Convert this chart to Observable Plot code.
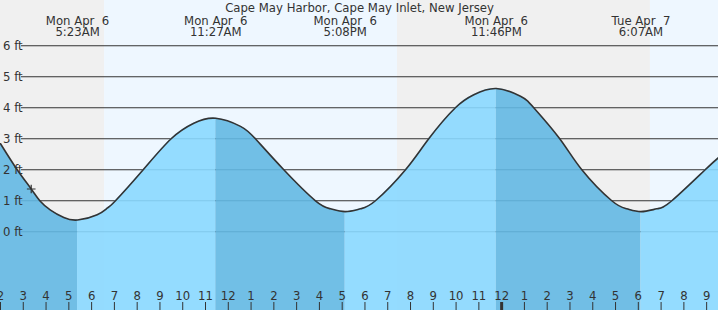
<!DOCTYPE html>
<html><head><meta charset="utf-8">
<script src="https://cdn.jsdelivr.net/npm/d3@7"></script>
<script src="https://cdn.jsdelivr.net/npm/@observablehq/plot@0.6"></script>
<style>
body{margin:0;background:#fff}
svg text{white-space:pre}
</style>
</head><body><div id="chart"></div>
<script>
const title = "Cape May Harbor, Cape May Inlet, New Jersey";

// tide curve (hours since midnight Apr 6, feet)
const tideHours = [2.000, 2.733, 3.348, 3.725, 4.195, 4.779, 5.383, 6.245, 6.684, 7.048, 8.264, 9.493, 10.486, 11.450, 12.536, 13.19, 14.437, 15.828, 16.487, 17.133, 17.803, 18.46, 19.78, 20.80, 21.97, 22.778, 23.767, 24.827, 25.41, 26.55, 27.52, 28.835, 29.494, 30.117, 30.811, 31.47, 32.935, 33.52];
const tideFeet  = [2.84, 2.00, 1.38, 1.00, 0.70, 0.46, 0.38, 0.55, 0.76, 1.00, 2.00, 3.00, 3.50, 3.66, 3.40, 3.00, 2.00, 1.00, 0.74, 0.65, 0.74, 1.00, 2.00, 3.00, 4.00, 4.42, 4.62, 4.37, 4.00, 3.00, 2.00, 1.00, 0.74, 0.65, 0.74, 1.00, 2.00, 2.39];

// high / low tides
const extremeHours = [5.383, 11.450, 17.133, 23.767, 30.117];
const extremeDays  = ["Mon Apr  6", "Mon Apr  6", "Mon Apr  6", "Mon Apr  6", "Tue Apr  7"];
const extremeTimes = ["5:23AM", "11:27AM", "5:08PM", "11:46PM", "6:07AM"];

// day / night
const bandStart = [2, 6.57, 19.43, 30.53];
const bandEnd   = [6.57, 19.43, 30.53, 33.52];
const bandKind  = ["night", "day", "night", "day"];

const gridFeet   = [0, 1, 2, 3, 4, 5, 6];
const gridLabels = ["0 ft", "1 ft", "2 ft", "3 ft", "4 ft", "5 ft", "6 ft"];

const hourTicks  = [2,3,4,5,6,7,8,9,10,11,12,13,14,15,16,17,18,19,20,21,22,23,24,25,26,27,28,29,30,31,32,33];
const hourLabels = ["2","3","4","5","6","7","8","9","10","11","12","1","2","3","4","5","6","7","8","9","10","11","12","1","2","3","4","5","6","7","8","9"];
const midnightTick = [24];

const nowHour = [3.348];
const nowFeet = [1.38];

const xDomain = [2, 33.52];
const yDomain = [-2.54, 7.46];

const LIGHT = "#89d8ff", DARK = "#63b8e3", INK = "#333";
const FONT = 11.7;

const bands = bandStart.map((s, i) => ({s, e: bandEnd[i], fill: bandKind[i] === "night" ? "#f0f0f0" : "#eef7ff"}));
const points = tideHours.map((t, i) => ({t, h: tideFeet[i]}));
const phaseEdges = [xDomain[0], ...extremeHours, xDomain[1]];
const phases = [];
for (let k = 0; k < phaseEdges.length - 1; k++) {
  const a = tideHours.indexOf(phaseEdges[k]), b = tideHours.indexOf(phaseEdges[k + 1]);
  const fallingPhase = tideFeet[b] < tideFeet[a];
  phases.push({s: phaseEdges[k], e: phaseEdges[k + 1], fill: fallingPhase ? DARK : LIGHT});
}
const extremes = extremeHours.map((t, i) => ({t, label: extremeDays[i] + "\n" + extremeTimes[i]}));
const grid = gridFeet.map((v, i) => ({v, label: gridLabels[i]}));
const hours = hourTicks.map((h, i) => ({h, label: hourLabels[i]}));

const chart = Plot.plot({
  width: 718, height: 310,
  marginTop: 0, marginRight: 0, marginBottom: 0, marginLeft: 0,
  style: {fontFamily: "DejaVu Sans", background: "#fff"},
  x: {domain: xDomain, axis: null},
  y: {domain: yDomain, axis: null},
  marks: [
    Plot.rect(bands, {x1: "s", x2: "e", fill: "fill"}),
    Plot.ruleY(grid, {y: "v", stroke: INK, strokeWidth: 1, insetLeft: 21}),
    Plot.areaY(points, {x: "t", y1: yDomain[0], y2: "h", fill: "#000", fillOpacity: 0, curve: "natural"}),
    Plot.rect(phases, {x1: "s", x2: "e", fill: "fill", fillOpacity: 0.9}),
    Plot.line(points, {x: "t", y: "h", stroke: INK, strokeWidth: 1.6, curve: "natural"}),
    Plot.dot(nowHour.map((t, i) => ({t, h: nowFeet[i]})), {x: "t", y: "h", symbol: "plus", r: 2.9, stroke: INK, strokeWidth: 1.2}),
    Plot.text(grid, {y: "v", text: "label", frameAnchor: "left", textAnchor: "start", dx: 2.5, fill: INK, fontSize: FONT}),
    Plot.tickX(hours, {x: "h", insetTop: 302, stroke: INK, strokeWidth: 1}),
    Plot.tickX(midnightTick, {x: d => d, insetTop: 302, stroke: INK, strokeWidth: 3}),
    Plot.text(hours, {x: "h", text: "label", frameAnchor: "bottom", lineAnchor: "middle", dy: -14, fill: INK, fontSize: FONT}),
    Plot.text([title], {text: d => d, frameAnchor: "top", lineAnchor: "top", dy: 3.4, fill: INK, fontSize: FONT}),
    Plot.text(extremes, {x: "t", text: "label", frameAnchor: "top", lineAnchor: "top", dy: 16.7, lineHeight: 0.94, fill: INK, fontSize: FONT})
  ]
});

// clip the phase rectangles (mark 4) to the water area (mark 3) drawn by Plot
const ns = "http://www.w3.org/2000/svg";
const groups = Array.from(chart.children).filter(el => el.tagName.toLowerCase() === "g");
const areaG = groups[2], phaseG = groups[3];
const src = areaG && areaG.querySelector("path");
if (src && phaseG) {
  const defs = document.createElementNS(ns, "defs");
  const cp = document.createElementNS(ns, "clipPath");
  cp.setAttribute("id", "tide-clip");
  const p = document.createElementNS(ns, "path");
  p.setAttribute("d", src.getAttribute("d"));
  const tr = areaG.getAttribute("transform");
  if (tr) p.setAttribute("transform", tr);
  cp.appendChild(p);
  defs.appendChild(cp);
  chart.insertBefore(defs, chart.firstChild);
  if (phaseG.getAttribute("transform")) phaseG.removeAttribute("transform");
  phaseG.setAttribute("clip-path", "url(#tide-clip)");
}
document.getElementById("chart").appendChild(chart);
</script>
</body></html>
